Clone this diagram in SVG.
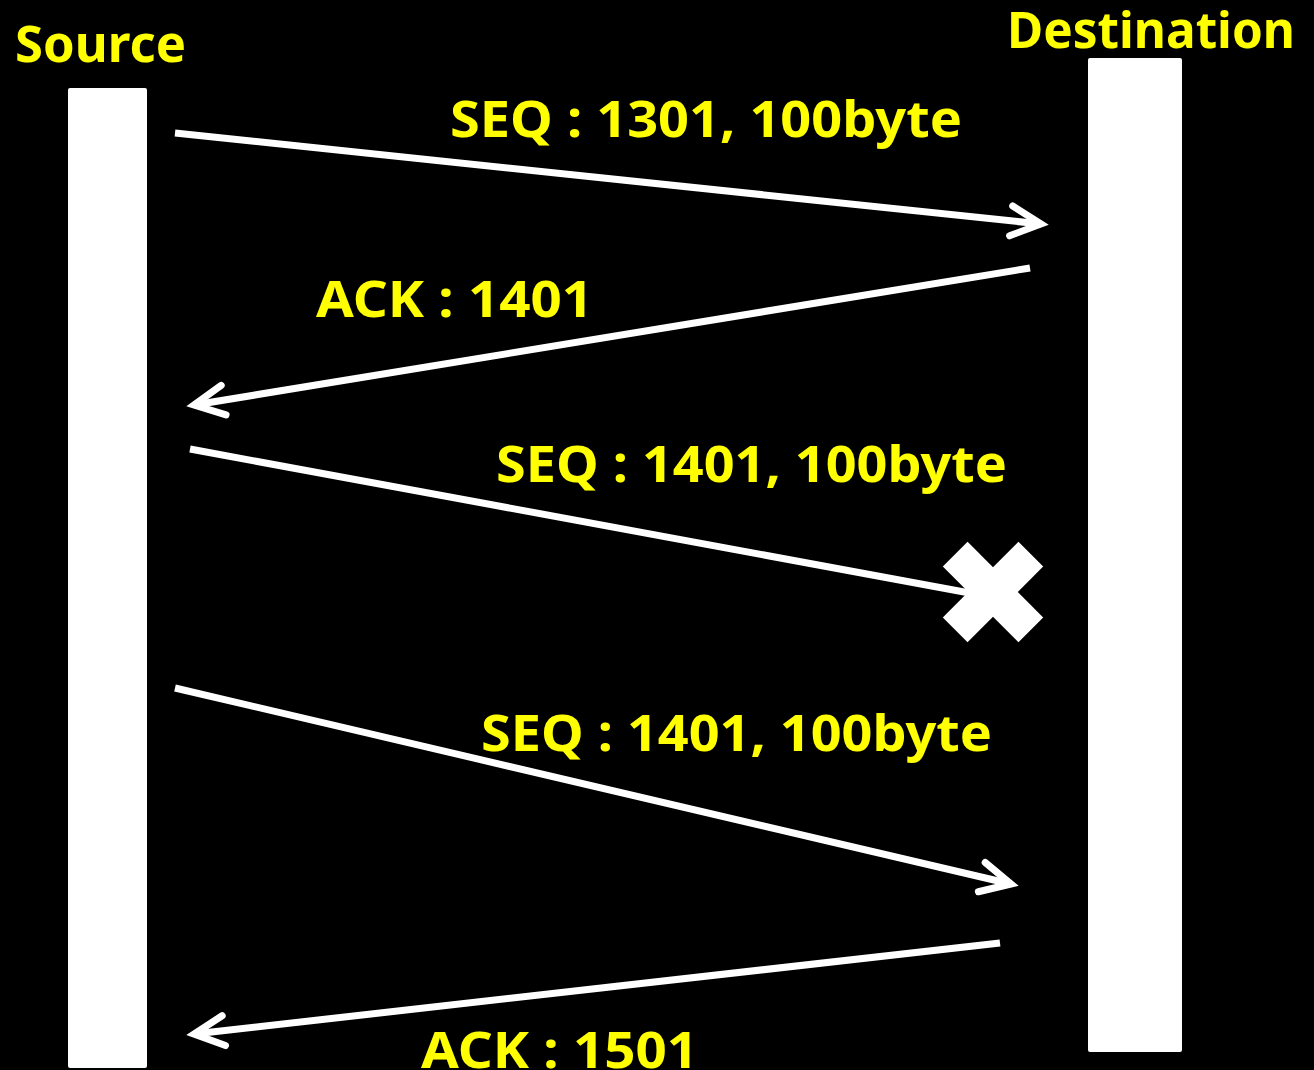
<svg xmlns="http://www.w3.org/2000/svg" width="1314" height="1070" viewBox="0 0 1314 1070">
<style>
.lbl{font-family:"Noto Sans","Open Sans","Liberation Sans",sans-serif;font-weight:bold;fill:#FFFF00;font-size:50px}
.bar{fill:#FFFFFF}
.conn line{stroke:#FFFFFF;stroke-width:7}
</style>
<defs>
<marker id="ah" markerUnits="userSpaceOnUse" markerWidth="50" markerHeight="50" viewBox="-40 -25 50 50" refX="0" refY="0" orient="auto" overflow="visible">
<path d="M-30,-15 L0,0 L-30,15" fill="none" stroke="#FFFFFF" stroke-width="7" stroke-linecap="round" stroke-linejoin="miter"/>
</marker>
</defs>
<rect width="1314" height="1070" fill="#000000"/>
<g id="source">
<rect class="bar" x="68" y="88" width="79" height="980" rx="2"/>
<text class="lbl" x="15" y="62" textLength="171" lengthAdjust="spacingAndGlyphs">Source</text>
</g>
<g id="destination">
<rect class="bar" x="1088" y="58" width="94" height="994" rx="2"/>
<text class="lbl" x="1007" y="48" textLength="288" lengthAdjust="spacingAndGlyphs">Destination</text>
</g>
<g id="connectors" class="conn">
<line x1="175" y1="133" x2="1041" y2="224" marker-end="url(#ah)"/>
<line x1="1030" y1="268" x2="194" y2="405" marker-end="url(#ah)"/>
<line x1="190" y1="449" x2="975" y2="594"/>
<line x1="175" y1="688" x2="1011" y2="884" marker-end="url(#ah)"/>
<line x1="1000" y1="943" x2="194" y2="1034" marker-end="url(#ah)"/>
</g>
<g id="lost-mark">
<g transform="translate(993,592) rotate(45)" fill="#FFFFFF">
<rect x="-53.5" y="-17.5" width="107" height="35"/>
<rect x="-17.5" y="-53.5" width="35" height="107"/>
</g>
</g>
<g id="labels">
<text class="lbl" x="450" y="137" textLength="512" lengthAdjust="spacingAndGlyphs">SEQ : 1301, 100byte</text>
<text class="lbl" x="316" y="317" textLength="277" lengthAdjust="spacingAndGlyphs">ACK : 1401</text>
<text class="lbl" x="496" y="482" textLength="511" lengthAdjust="spacingAndGlyphs">SEQ : 1401, 100byte</text>
<text class="lbl" x="481" y="751" textLength="511" lengthAdjust="spacingAndGlyphs">SEQ : 1401, 100byte</text>
<text class="lbl" x="421" y="1068" textLength="277" lengthAdjust="spacingAndGlyphs">ACK : 1501</text>
</g>
</svg>
